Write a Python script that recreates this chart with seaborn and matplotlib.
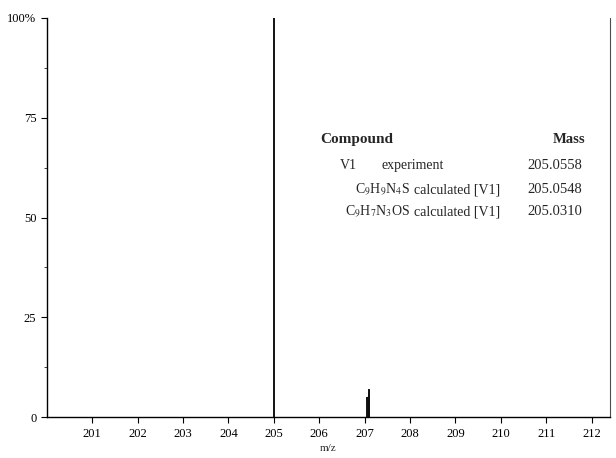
import matplotlib
matplotlib.use("Agg")
import matplotlib.pyplot as plt
import seaborn as sns

# Datos del espectro (m/z, intensidad relativa %)
mz = [205.0, 207.05, 207.1]
intensidad = [100, 5, 7]

ticks_x = [201, 202, 203, 204, 205, 206, 207, 208, 209, 210, 211, 212]
ticks_y = [0, 25, 50, 75, 100]
etiquetas_y = ['0', '25', '50', '75', '100%']

# Tabla de compuestos
compuestos = ['V1', r'C$_9$H$_9$N$_4$S', r'C$_9$H$_7$N$_3$OS']
tipos = ['experiment', 'calculated [V1]', 'calculated [V1]']
masas = ['205.0558', '205.0548', '205.0310']

sns.set_style('ticks')
plt.rcParams['font.family'] = ['Liberation Serif', 'DejaVu Serif']
plt.rcParams['mathtext.fontset'] = 'stix'

fig = plt.figure(figsize=(6.16, 4.58), dpi=100)
ax = fig.add_axes([0.076, 0.089, 0.914, 0.872])

ax.vlines(mz, 0, intensidad, color='black', linewidth=1.3)
ax.fill_between([mz[1], mz[2]], [intensidad[1], intensidad[2]], color='0.55', linewidth=0)

ax.set_xlim(200, 212.4)
ax.set_ylim(0, 100)
ax.set_xticks(ticks_x)
ax.set_xticklabels([str(t) for t in ticks_x], fontsize=9)
ax.set_yticks(ticks_y)
ax.set_yticklabels(etiquetas_y, fontsize=9)
ax.set_yticks([12.5, 37.5, 62.5, 87.5], minor=True)
ax.tick_params(axis='both', direction='out', length=4, width=0.8, colors='black')
ax.tick_params(axis='y', which='minor', length=2.5)
ax.set_xlabel('m/z', fontsize=8, labelpad=3)

sns.despine(ax=ax, right=False)
for lado in ['left', 'bottom']:
    ax.spines[lado].set_linewidth(1.0)
    ax.spines[lado].set_color('black')
ax.spines['right'].set_linewidth(0.8)
ax.spines['right'].set_linestyle((0, (4, 1)))
ax.spines['right'].set_color('0.3')

# Tabla dentro del gráfico
fs = 10
ax.text(0.485, 0.695, 'Compound', transform=ax.transAxes, fontsize=11,
        fontweight='bold', ha='left', va='center')
ax.text(0.928, 0.695, 'Mass', transform=ax.transAxes, fontsize=10.5,
        fontweight='bold', ha='center', va='center')
filas_y = [0.63, 0.57, 0.515]
for i in range(3):
    if i == 0:
        ax.text(0.535, filas_y[i], compuestos[i], transform=ax.transAxes,
                fontsize=fs, ha='center', va='center')
        ax.text(0.595, filas_y[i], tipos[i], transform=ax.transAxes,
                fontsize=fs, ha='left', va='center')
    else:
        ax.text(0.645, filas_y[i], compuestos[i], transform=ax.transAxes,
                fontsize=fs, ha='right', va='center')
        ax.text(0.652, filas_y[i], tipos[i], transform=ax.transAxes,
                fontsize=fs, ha='left', va='center')
    ax.text(0.903, filas_y[i], masas[i], transform=ax.transAxes, fontsize=10.5,
            ha='center', va='center')

fig.savefig('out.png', dpi=100)
